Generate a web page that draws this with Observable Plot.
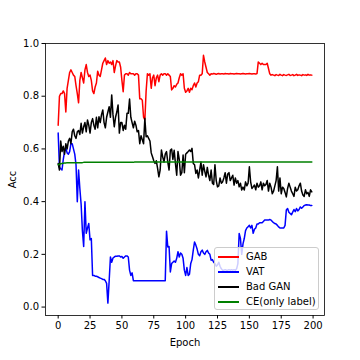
<!DOCTYPE html>
<html><head><meta charset="utf-8">
<script src="https://cdn.jsdelivr.net/npm/d3@7"></script>
<script src="https://cdn.jsdelivr.net/npm/@observablehq/plot@0.6"></script>
<style>
body{margin:0;background:#fff;}
#wrap{position:relative;width:360px;height:360px;font-family:"DejaVu Sans",sans-serif;}
#wrap svg{display:block;}
.legend{position:absolute;left:214px;top:247px;width:105px;height:63px;box-sizing:border-box;border:1px solid #cccccc;border-radius:3px;background:rgba(255,255,255,0.8);font-size:10px;color:#000;}
.handle{position:absolute;left:3px;width:21px;height:2px;transform:translateY(-50%);}
.lbl{position:absolute;left:31px;line-height:12px;transform:translateY(-50%);white-space:nowrap;}
</style></head>
<body><div id="wrap"></div>
<script>
const epochs = d3.range(200);
const seriesNames = ["GAB", "VAT", "Bad GAN", "CE(only label)"];
const seriesColors = ["#ff0000", "#0000ff", "#000000", "#008000"];
const xTicks = [0, 25, 50, 75, 100, 125, 150, 175, 200];
const yTicks = [0, 0.2, 0.4, 0.6, 0.8, 1.0];

const gab = [
0.69,0.80,0.81,0.81,0.82,0.81,0.74,0.83,0.86,0.89,
0.90,0.89,0.88,0.875,0.84,0.81,0.775,0.86,0.89,0.87,
0.85,0.90,0.92,0.89,0.875,0.88,0.86,0.82,0.81,0.835,
0.85,0.895,0.88,0.875,0.90,0.925,0.935,0.945,0.92,0.935,
0.925,0.93,0.92,0.935,0.89,0.915,0.935,0.93,0.93,0.91,
0.86,0.817,0.88,0.885,0.885,0.88,0.89,0.885,0.885,0.885,
0.88,0.885,0.885,0.88,0.79,0.79,0.785,0.72,0.71,0.82,
0.885,0.88,0.885,0.83,0.87,0.88,0.84,0.87,0.88,0.855,
0.88,0.885,0.88,0.885,0.885,0.88,0.885,0.88,0.875,0.824,
0.83,0.84,0.835,0.845,0.85,0.87,0.885,0.88,0.885,0.83,
0.815,0.82,0.83,0.815,0.83,0.825,0.84,0.85,0.835,0.85,
0.855,0.88,0.88,0.885,0.955,0.93,0.91,0.89,0.885,0.88,
0.885,0.884,0.886,0.885,0.883,0.885,0.886,0.884,0.885,0.885,
0.884,0.886,0.885,0.885,0.884,0.886,0.885,0.885,0.884,0.885,
0.886,0.885,0.885,0.884,0.885,0.886,0.885,0.884,0.885,0.885,
0.886,0.885,0.884,0.885,0.885,0.884,0.886,0.93,0.925,0.92,
0.925,0.92,0.92,0.92,0.925,0.905,0.885,0.88,0.882,0.88,
0.878,0.882,0.88,0.879,0.883,0.88,0.878,0.882,0.88,0.879,
0.881,0.883,0.879,0.88,0.882,0.878,0.88,0.883,0.879,0.881,
0.88,0.878,0.882,0.88,0.881,0.879,0.883,0.88,0.881,0.88
];

const vat = [
0.66,0.53,0.525,0.52,0.56,0.59,0.605,0.585,0.58,0.59,
0.62,0.62,0.60,0.58,0.54,0.40,0.52,0.45,0.39,0.29,
0.23,0.40,0.28,0.30,0.317,0.255,0.26,0.12,0.12,0.117,
0.117,0.115,0.112,0.11,0.108,0.105,0.105,0.10,0.09,0.015,
0.10,0.19,0.17,0.186,0.19,0.193,0.193,0.194,0.194,0.19,
0.192,0.185,0.19,0.194,0.194,0.19,0.14,0.12,0.13,0.10,
0.10,0.10,0.10,0.10,0.10,0.10,0.10,0.10,0.10,0.10,
0.10,0.10,0.10,0.10,0.10,0.10,0.10,0.10,0.10,0.10,
0.10,0.10,0.10,0.10,0.10,0.288,0.228,0.23,0.133,0.165,
0.17,0.175,0.17,0.185,0.21,0.19,0.205,0.20,0.185,0.14,
0.12,0.15,0.12,0.125,0.165,0.18,0.216,0.247,0.235,0.22,
0.20,0.195,0.21,0.216,0.205,0.20,0.21,0.215,0.205,0.20,
0.178,0.18,0.17,0.165,0.155,0.16,0.17,0.155,0.145,0.14,
0.14,0.142,0.14,0.14,0.142,0.14,0.142,0.14,0.142,0.14,
0.145,0.165,0.279,0.26,0.20,0.24,0.26,0.29,0.30,0.305,
0.31,0.30,0.31,0.28,0.295,0.30,0.315,0.315,0.32,0.32,
0.32,0.325,0.33,0.33,0.33,0.33,0.332,0.33,0.325,0.32,
0.317,0.315,0.31,0.304,0.30,0.30,0.30,0.30,0.31,0.368,
0.374,0.36,0.355,0.35,0.36,0.37,0.362,0.374,0.365,0.37,
0.38,0.375,0.38,0.385,0.387,0.388,0.387,0.387,0.385,0.385
];

const badGan = [
0.545,0.52,0.63,0.59,0.61,0.58,0.62,0.60,0.63,0.64,
0.62,0.665,0.675,0.65,0.64,0.665,0.67,0.655,0.697,0.66,
0.684,0.70,0.665,0.71,0.69,0.66,0.70,0.715,0.69,0.675,
0.72,0.68,0.722,0.70,0.73,0.748,0.70,0.68,0.72,0.74,
0.76,0.72,0.805,0.73,0.684,0.72,0.74,0.767,0.66,0.70,
0.70,0.67,0.69,0.675,0.735,0.735,0.789,0.72,0.70,0.68,
0.705,0.69,0.665,0.67,0.62,0.65,0.635,0.62,0.716,0.646,
0.65,0.64,0.63,0.585,0.57,0.555,0.545,0.555,0.526,0.494,
0.52,0.596,0.57,0.55,0.58,0.59,0.55,0.52,0.595,0.60,
0.56,0.595,0.545,0.50,0.59,0.56,0.50,0.51,0.577,0.51,
0.58,0.585,0.59,0.596,0.59,0.602,0.545,0.54,0.507,0.52,
0.49,0.52,0.55,0.50,0.54,0.515,0.494,0.53,0.50,0.48,
0.52,0.47,0.465,0.54,0.48,0.456,0.46,0.49,0.47,0.475,
0.49,0.51,0.47,0.505,0.51,0.48,0.49,0.50,0.463,0.49,
0.47,0.48,0.456,0.47,0.444,0.455,0.444,0.475,0.46,0.47,
0.532,0.475,0.45,0.456,0.463,0.445,0.47,0.455,0.46,0.475,
0.445,0.47,0.46,0.465,0.48,0.44,0.47,0.455,0.43,0.44,
0.46,0.48,0.532,0.44,0.49,0.43,0.455,0.45,0.435,0.418,
0.45,0.47,0.455,0.44,0.43,0.42,0.455,0.44,0.445,0.46,
0.47,0.44,0.425,0.42,0.445,0.43,0.435,0.42,0.445,0.437
];

const ceOnly = [
0.540,0.542,0.544,0.545,0.546,0.547,0.547,0.548,0.548,0.548,
0.548,0.548,0.548,0.548,0.548,0.548,0.548,0.548,0.548,0.548,
0.549,0.549,0.549,0.549,0.549,0.549,0.549,0.549,0.549,0.549,
0.549,0.549,0.549,0.549,0.549,0.549,0.549,0.549,0.549,0.549,
0.549,0.549,0.549,0.549,0.549,0.549,0.549,0.549,0.549,0.549,
0.549,0.549,0.549,0.549,0.549,0.549,0.549,0.549,0.549,0.549,
0.55,0.55,0.55,0.55,0.55,0.55,0.55,0.55,0.55,0.55,
0.55,0.55,0.55,0.55,0.55,0.55,0.55,0.55,0.55,0.55,
0.55,0.55,0.55,0.55,0.55,0.55,0.55,0.55,0.55,0.55,
0.55,0.55,0.55,0.55,0.55,0.55,0.55,0.55,0.55,0.55,
0.55,0.55,0.55,0.55,0.55,0.55,0.55,0.55,0.55,0.55,
0.55,0.55,0.55,0.55,0.55,0.55,0.55,0.55,0.55,0.55,
0.55,0.55,0.55,0.55,0.55,0.55,0.55,0.55,0.55,0.55,
0.55,0.55,0.55,0.55,0.55,0.55,0.55,0.55,0.55,0.55,
0.55,0.55,0.55,0.55,0.55,0.55,0.55,0.55,0.55,0.55,
0.55,0.55,0.55,0.55,0.55,0.55,0.55,0.55,0.55,0.55,
0.55,0.55,0.55,0.55,0.55,0.55,0.55,0.55,0.55,0.55,
0.55,0.55,0.55,0.55,0.55,0.55,0.55,0.55,0.55,0.55,
0.55,0.55,0.55,0.55,0.55,0.55,0.55,0.55,0.55,0.55,
0.55,0.55,0.55,0.55,0.55,0.55,0.55,0.55,0.55,0.55
];

const seriesValues = [gab, vat, badGan, ceOnly];
const tables = seriesValues.map((vals, s) =>
  vals.map((v, i) => ({epoch: epochs[i], acc: v, series: seriesNames[s]})));

const plot = Plot.plot({
  width: 360, height: 360,
  marginTop: 43, marginRight: 36, marginBottom: 45, marginLeft: 45,
  style: {fontFamily: "DejaVu Sans", fontSize: "10px", color: "#000", background: "#fff"},
  x: {domain: [-9.95, 208.95]},
  y: {domain: [-0.032, 1.0]},
  marks: [
    ...tables.map((t, s) => Plot.line(t, {x: "epoch", y: "acc", stroke: seriesColors[s], strokeWidth: 1.5})),
    Plot.frame({stroke: "#000", strokeWidth: 0.8}),
    Plot.axisX({ticks: xTicks, tickSize: 3.5, tickPadding: 3, tickFormat: d => String(d),
      label: "Epoch", labelAnchor: "center", labelOffset: 30, labelArrow: "none"}),
    Plot.axisY({ticks: yTicks, tickSize: 3.5, tickPadding: 3, tickFormat: d => d.toFixed(1),
      label: "Acc", labelAnchor: "center", labelOffset: 37, labelArrow: "none"})
  ]
});

const wrap = document.getElementById("wrap");
wrap.appendChild(plot);

const legend = document.createElement("div");
legend.className = "legend";
const rowY = [8.7, 23.7, 39, 54];
seriesNames.forEach((name, i) => {
  const h = document.createElement("div");
  h.className = "handle";
  h.style.top = rowY[i] + "px";
  h.style.background = seriesColors[i];
  legend.appendChild(h);
  const t = document.createElement("div");
  t.className = "lbl";
  t.style.top = rowY[i] + "px";
  t.textContent = name;
  legend.appendChild(t);
});
wrap.appendChild(legend);
</script>
</body></html>
